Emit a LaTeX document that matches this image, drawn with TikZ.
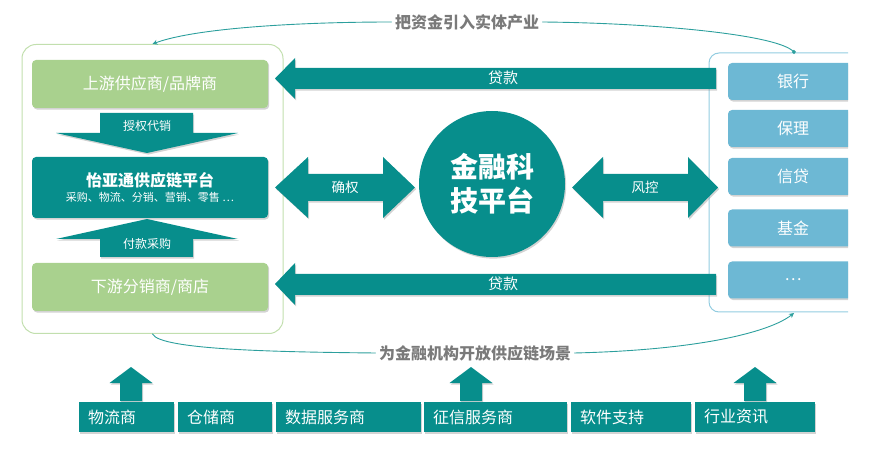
\documentclass[tikz,border=0pt]{standalone}
\usepackage{fontspec}
\setmainfont{Noto Sans CJK SC}
\usepackage{tikz}
\usetikzlibrary{arrows.meta,shadows}
\usepackage{xcolor}
\definecolor{tealMain}{HTML}{078E8C}
\definecolor{greenBox}{HTML}{A9D18E}
\definecolor{blueBox}{HTML}{6DB8D4}
\definecolor{greenLine}{HTML}{C2DFAE}
\definecolor{blueLine}{HTML}{92CCE0}
\definecolor{grayText}{HTML}{7A7A7A}

\begin{document}
\begin{tikzpicture}[x=1pt,y=-1pt,>={Stealth[length=5pt,width=5pt]},line cap=round,
  shade/.style={drop shadow={opacity=0.35,shadow xshift=1.2pt,shadow yshift=-1.6pt}},
  chainbox/.style={fill=greenBox,rounded corners=4pt,minimum width=236pt,minimum height=48pt,
    text=white,font=\fontsize{16}{16}\selectfont,shade},
  instbox/.style={fill=blueBox,rounded corners=4pt,minimum width=130pt,minimum height=37pt,
    text=white,font=\fontsize{16}{16}\selectfont,shade},
  svcbox/.style={fill=tealMain,minimum height=30pt,inner xsep=9pt,align=left,
    text=white,font=\fontsize{16}{16}\selectfont,shade},
  arrowtext/.style={text=white,font=\fontsize{12}{12}\selectfont},
  flowtext/.style={text=grayText,font=\bfseries\fontsize{16}{16}\selectfont},
  flow/.style={tealMain!85,line width=0.9pt}]
\useasboundingbox (0,0) rectangle (873,462);
% left side: supply chain
\node[draw=greenLine,line width=1pt,rounded corners=14pt,minimum width=261pt,minimum height=289pt] (chain) at (152.5,189) {};
\node[chainbox] (upstream) at (150,84) {上游供应商/品牌商};
\node[chainbox,fill=tealMain,minimum height=61pt,align=center] (platform) at (150,187.5)
  {{\bfseries\fontsize{16}{18}\selectfont 怡亚通供应链平台}\\[-1pt]{\fontsize{11}{12}\selectfont 采购、物流、分销、营销、零售 …}};
\node[chainbox] (downstream) at (150,287) {下游分销商/商店};
\fill[tealMain,shade] (100,113) -- (193,113) -- (193,133) -- (238,133) -- (147,153) -- (56,133) -- (100,133) -- cycle;
\node[arrowtext] (authorize) at (147,126) {授权代销};
\fill[tealMain,shade] (147,219) -- (238,239) -- (193,239) -- (193,257) -- (100,257) -- (100,239) -- (56,239) -- cycle;
\node[arrowtext] (purchase) at (147,244) {付款采购};
% right side: financial institutions
\begin{scope}
\clip (0,0) rectangle (848,462);
\node[draw=blueLine,line width=1pt,rounded corners=10pt,minimum width=191pt,minimum height=259pt] (inst) at (804.5,182.5) {};
\node[instbox] (bank) at (793,81.5) {银行};
\node[instbox] (factoring) at (793,128.5) {保理};
\node[instbox] (credit) at (793,176.5) {信贷};
\node[instbox] (fund) at (793,228) {基金};
\node[instbox] (others) at (793,280) {…};
\end{scope}
% loans and links
\fill[tealMain,shade] (716,68) -- (295,68) -- (295,58) -- (275,78.5) -- (295,99) -- (295,89) -- (716,89) -- cycle;
\node[arrowtext,font=\fontsize{15}{15}\selectfont] (loanTop) at (503,78) {贷款};
\fill[tealMain,shade] (716,274) -- (295,274) -- (295,263) -- (275,284) -- (295,305) -- (295,295) -- (716,295) -- cycle;
\node[arrowtext,font=\fontsize{15}{15}\selectfont] (loanBottom) at (503,284) {贷款};
\fill[tealMain,shade] (275,187.5) -- (308,157) -- (308,174) -- (383,174) -- (383,157) -- (415,187.5) -- (383,218) -- (383,201) -- (308,201) -- (308,218) -- cycle;
\node[arrowtext,font=\fontsize{13.5}{14}\selectfont] (confirm) at (345,187.5) {确权};
\fill[tealMain,shade] (572,187.5) -- (603,157) -- (603,174) -- (688,174) -- (688,157) -- (718,187.5) -- (688,218) -- (688,201) -- (603,201) -- (603,218) -- cycle;
\node[arrowtext,font=\fontsize{13.5}{14}\selectfont] (risk) at (645,187.5) {风控};
\node[circle,fill=tealMain,minimum size=146pt,text=white,align=center,shade,
  font=\bfseries\fontsize{28}{34}\selectfont] (fintech) at (492,184) {金融科\\技平台};
% flows
\coordinate (instTop) at (795,53);
\coordinate (instBottom) at (794,313);
\node[flowtext] (toReal) at (467,22) {把资金引入实体产业};
\draw[flow,->] (toReal.west) .. controls (300,22) and (195,28) .. (chain.north);
\draw[flow,-{Square[length=3pt,width=3pt]}] (toReal.east) .. controls (650,23) and (775,34) .. (instTop);
\node[flowtext] (openScene) at (475,353) {为金融机构开放供应链场景};
\draw[flow] (chain.south) .. controls (160,350) and (280,352) .. (openScene.west);
\draw[flow,->] (openScene.east) .. controls (700,350) and (770,332) .. (instBottom);
% service providers
\fill[tealMain,shade] (131,367) -- (152.5,383) -- (142,383) -- (142,401) -- (120,401) -- (120,383) -- (109.5,383) -- cycle;
\fill[tealMain,shade] (471,367) -- (492.5,383) -- (482,383) -- (482,401) -- (460,401) -- (460,383) -- (449.5,383) -- cycle;
\fill[tealMain,shade] (755,367) -- (776.5,383) -- (766,383) -- (766,401) -- (744,401) -- (744,383) -- (733.5,383) -- cycle;
\node[svcbox,text width=77pt] (logistics) at (126.5,417) {物流商};
\node[svcbox,text width=76pt] (storage) at (225,417) {仓储商};
\node[svcbox,text width=127pt] (dataSvc) at (348.5,417) {数据服务商};
\node[svcbox,text width=125pt] (creditSvc) at (495.5,417) {征信服务商};
\node[svcbox,text width=102pt] (software) at (631,417) {软件支持};
\node[svcbox,text width=102pt] (industry) at (755,417) {行业资讯};
\end{tikzpicture}
\end{document}
